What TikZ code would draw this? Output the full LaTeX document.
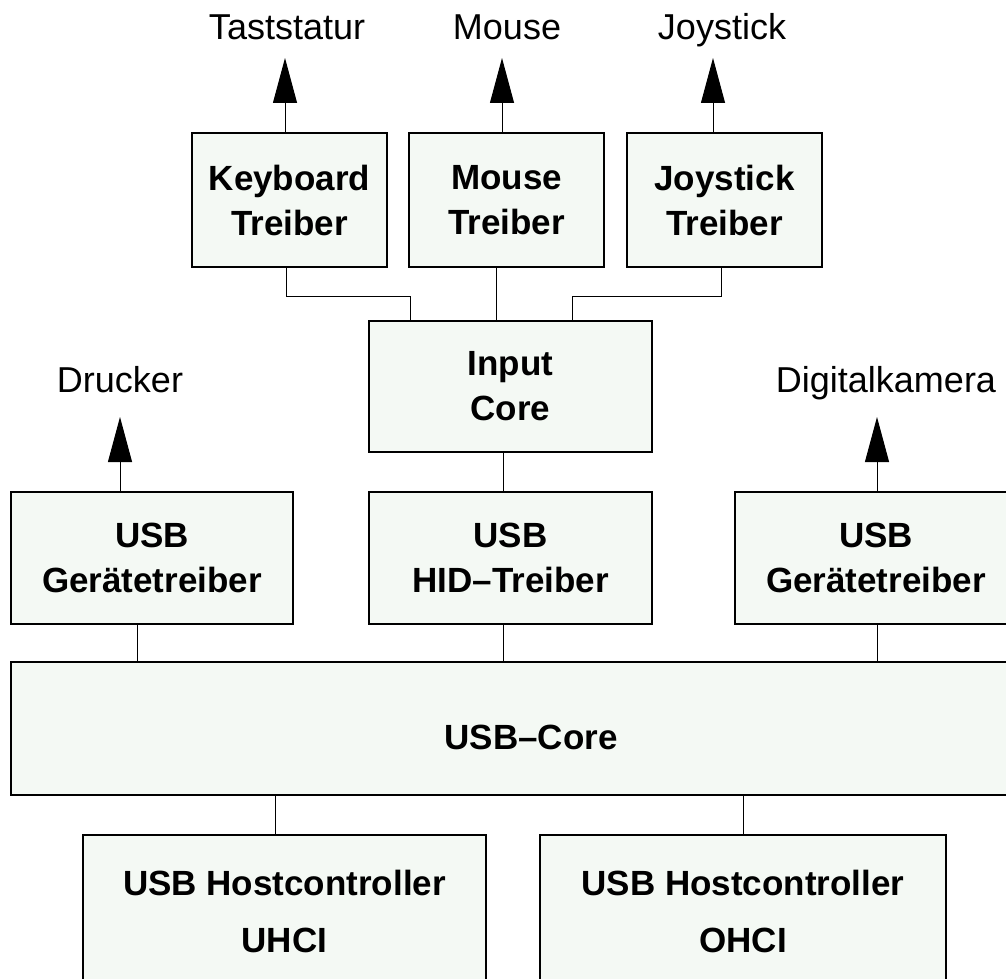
\documentclass[tikz,border=0pt]{standalone}
\usepackage{fontspec}
\setmainfont{Liberation Sans}
\usetikzlibrary{arrows.meta}
\definecolor{boxfill}{HTML}{F4F9F4}
\tikzset{
  box/.style={draw=black, line width=1.4pt, fill=boxfill, inner sep=0pt, align=center,
    font=\fontsize{35}{45}\selectfont\bfseries},
  lbl/.style={anchor=base, inner sep=0pt, font=\fontsize{36}{44}\selectfont},
  conn/.style={draw=black, line width=1pt},
  arr/.style={draw=black, line width=1pt, -{Triangle[length=45pt,width=24pt]}}
}
\begin{document}
\begin{tikzpicture}[x=1pt,y=-1pt]
\useasboundingbox (0,0) rectangle (1006,979);
\clip (0,0) rectangle (1006,979);
\fill[white] (0,0) rectangle (1006,979);

% top row
\node[box, minimum width=195pt, minimum height=134pt] (kb) at (289.5,200) {Keyboard\\Treiber};
\node[box, minimum width=195pt, minimum height=134pt] (ms) at (506.5,200) {Mouse\\Treiber};
\node[box, minimum width=195pt, minimum height=134pt] (js) at (724.5,200) {Joystick\\Treiber};

% middle
\node[box, minimum width=283pt, minimum height=131pt] (ic) at (510.5,386.5) {Input\\Core};
\node[box, minimum width=283pt, minimum height=132pt] (hid) at (510.5,558) {USB\\HID--Treiber};
\node[box, minimum width=282pt, minimum height=132pt] (gl) at (152,558) {USB\\Gerätetreiber};
\node[box, minimum width=282pt, minimum height=132pt] (gr) at (876,558) {USB\\Gerätetreiber};

% core
\node[box, minimum width=1040pt, minimum height=133pt] (core) at (531,728.5) {\raisebox{-21pt}[0pt][0pt]{USB--Core}};

% host controllers
\node[box, minimum width=403pt, minimum height=153pt, font=\fontsize{35}{57}\selectfont\bfseries] (uh) at (284.5,911.5) {USB Hostcontroller\\UHCI};
\node[box, minimum width=406pt, minimum height=153pt, font=\fontsize{35}{57}\selectfont\bfseries] (oh) at (743,911.5) {USB Hostcontroller\\OHCI};

% labels
\node[lbl] (lt) at (287,40) {Taststatur};
\node[lbl] (lm) at (507,40) {Mouse};
\node[lbl] (lj) at (722,40) {Joystick};
\node[lbl] (ld) at (120,392) {Drucker};
\node[lbl] (lk) at (886,392) {Digitalkamera};

% arrow tips
\coordinate (tkb) at (285,58);
\coordinate (tms) at (502,58);
\coordinate (tjs) at (713,58);
\coordinate (tgl) at (120,417);
\coordinate (tgr) at (877,417);

\draw[arr] ([xshift=-4.5pt]kb.north) -- (tkb);
\draw[arr] ([xshift=-4.5pt]ms.north) -- (tms);
\draw[arr] ([xshift=-11.5pt]js.north) -- (tjs);
\draw[arr] ([xshift=-32pt]gl.north) -- (tgl);
\draw[arr] ([xshift=1pt]gr.north) -- (tgr);

% connectors to input core
\draw[conn] ([xshift=-3.5pt]kb.south) -- ++(0,29) -| ([xshift=-100.5pt]ic.north);
\draw[conn] ([xshift=-10.5pt]ms.south) -- ([xshift=-14.5pt]ic.north);
\draw[conn] ([xshift=-3.5pt]js.south) -- ++(0,29) -| ([xshift=61.5pt]ic.north);

\draw[conn] ([xshift=-7.5pt]ic.south) -- ([xshift=-7.5pt]hid.north);

% to USB core
\draw[conn] ([xshift=-15pt]gl.south) -- ([xshift=-15pt]gl.south |- core.north);
\draw[conn] ([xshift=-7.5pt]hid.south) -- ([xshift=-7.5pt]hid.south |- core.north);
\draw[conn] ([xshift=1pt]gr.south) -- ([xshift=1pt]gr.south |- core.north);

% core to host controllers
\draw[conn] ([xshift=-9.5pt]uh.north |- core.south) -- ([xshift=-9.5pt]uh.north);
\draw[conn] (oh.north |- core.south) -- (oh.north);
\end{tikzpicture}
\end{document}
